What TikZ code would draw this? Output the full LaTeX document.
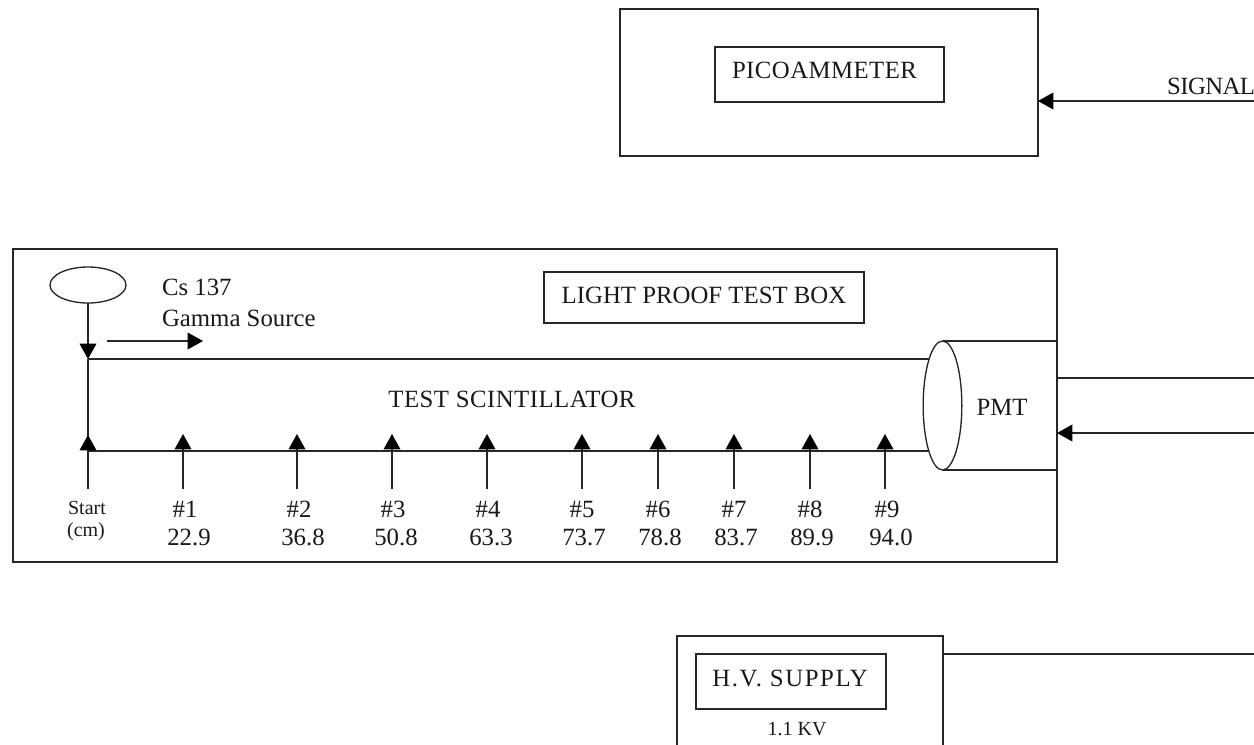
\documentclass[tikz,border=0pt]{standalone}
\usepackage{fontspec}
\setmainfont{Liberation Serif}
\usetikzlibrary{arrows.meta,shapes.geometric}
\newcommand{\bigfont}{\fontsize{18.6pt}{22pt}\selectfont}
\newcommand{\smallfont}{\fontsize{15pt}{18pt}\selectfont}
\newcommand{\spaced}[1]{\addfontfeature{LetterSpace=#1}}
\tikzset{
  every node/.style={inner sep=0pt,outer sep=0pt},
  wire/.style={draw=black!85,line width=1.1pt},
  arrowwire/.style={wire,-{Triangle[length=11.5pt,width=12.5pt,color=black]},shorten >=0pt},
  boxshape/.style={draw=black!85,line width=1.1pt,rectangle,anchor=north west},
  oval/.style={draw=black!85,line width=1pt,ellipse},
  lab/.style={font=\bigfont,text=black!90},
  labsmall/.style={font=\smallfont,text=black!90},
}
\begin{document}
\begin{tikzpicture}[x=0.75pt,y=-0.75pt]
\useasboundingbox (0,0) rectangle (1254,744);
\clip (0,0) rectangle (1254,744);
% picoammeter
\node[boxshape,minimum width=313.5pt,minimum height=110.25pt] (pico) at (620,9) {};
\node[boxshape,minimum width=171.75pt,minimum height=41.25pt] (picolabel) at (715,47) {};
\node[lab] (picotext) at (824.5,70) {\spaced{1.8}PICOAMMETER};
\node[lab,anchor=east] (signal) at (1255,86) {\spaced{-2.5}SIGNAL};
\coordinate (sigend) at (1254,101);
\draw[arrowwire] (sigend) -- (sigend -| pico.east);
% test box
\node[boxshape,minimum width=783pt,minimum height=234.75pt] (testbox) at (13,249) {};
\node[boxshape,minimum width=240pt,minimum height=38.25pt] (boxlabel) at (544,272) {};
\node[lab] (boxtext) at (704,295) {LIGHT PROOF TEST BOX};
% source
\node[oval,minimum width=57pt,minimum height=27pt] (source) at (88,285) {};
\node[lab,anchor=west] (cs) at (162,287) {Cs 137};
\node[lab,anchor=west] (gamma) at (162,318) {Gamma Source};
\coordinate (scanstart) at (107,341);
\coordinate (scanend) at (203,341);
\draw[arrowwire] (scanstart) -- (scanend);
% scintillator
\coordinate (tl) at (88,359);
\coordinate (bl) at (88,451);
\coordinate (pmtc) at (942.5,405.5);
\draw[arrowwire] (source.south) -- (tl);
\draw[wire] (tl) -- (bl);
\draw[wire] (tl) -- (tl -| pmtc);
\draw[wire] (bl) -- (bl -| pmtc);
\node[oval,minimum width=29pt,minimum height=96.75pt,fill=white] (pmtface) at (pmtc) {};
\node[lab] (scint) at (512,399) {\spaced{1.9}TEST SCINTILLATOR};
\node[lab] (pmt) at (1002,407) {PMT};
\draw[wire] (pmtface.north) -- (pmtface.north -| testbox.east);
\draw[wire] (pmtface.south) -- (pmtface.south -| testbox.east);
% position arrows
\foreach \n/\x/\hx/\vx/\lab/\val in {1/183/185/189/\#1/22.9,2/297/299/303/\#2/36.8,3/392/393/396/\#3/50.8,4/487/488/491/\#4/63.3,5/582/582/584/\#5/73.7,6/658/658/660/\#6/78.8,7/734/734/736/\#7/83.7,8/810/810/812/\#8/89.9,9/885/887/891/\#9/94.0}{
  \coordinate (f\n) at (\x,489);
  \coordinate (t\n) at (\x,434);
  \draw[arrowwire] (f\n) -- (t\n);
  \node[lab] (h\n) at (\hx,509) {\lab};
  \node[lab] (v\n) at (\vx,537) {\val};
}
\coordinate (f0) at (88,489);
\coordinate (t0) at (88,435);
\draw[arrowwire] (f0) -- (t0);
\node[labsmall] (start) at (87,508) {Start};
\node[labsmall] (cm) at (86,532) {(cm)};
% right connectors
\coordinate (sigout) at (1254,378);
\coordinate (hvin) at (1254,433);
\draw[wire] (sigout -| testbox.east) -- (sigout);
\draw[arrowwire] (hvin) -- (hvin -| testbox.east);
% HV supply
\node[boxshape,minimum width=199.5pt,minimum height=120pt] (hv) at (677,636) {};
\node[boxshape,minimum width=142.5pt,minimum height=41.25pt] (hvlabel) at (696,654) {};
\node[lab] (hvtext) at (790,678) {\spaced{6.4}H.V. SUPPLY};
\node[labsmall] (kv) at (797,729) {1.1 KV};
\coordinate (hvout) at (1254,654);
\draw[wire] (hvout -| hv.east) -- (hvout);
\end{tikzpicture}
\end{document}
